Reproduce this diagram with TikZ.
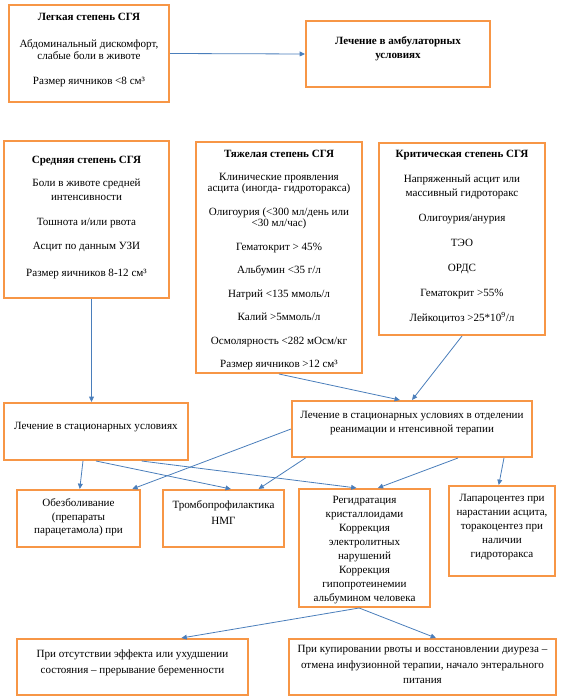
\documentclass[tikz,border=0pt]{standalone}
\usepackage{fontspec}
\setmainfont{Liberation Serif}
\usepackage{xcolor}
\usepackage{tikz}
\usetikzlibrary{arrows.meta,calc}
\definecolor{boxor}{RGB}{247,150,70}
\definecolor{arblue}{RGB}{74,126,187}
\newlength{\pxu}
\setlength{\pxu}{0.75pt}
\tikzset{
  bx/.style={draw=boxor,line width=1.5pt,inner sep=0pt,anchor=north west,font=\fontsize{8.3}{10.5}\selectfont},
  ar/.style={draw=arblue,line width=0.6pt,-{Triangle[length=4pt,width=3.6pt]}}
}
\newcommand{\bt}[4]{\parbox[c][#2\pxu][t]{#1\pxu}{\centering\vspace*{#3\pxu}#4}}

\begin{document}
\begin{tikzpicture}[x=0.75pt,y=-0.75pt]
\useasboundingbox (0,0) rectangle (567,698);
\node[bx,font=\fontsize{8.3}{9}\selectfont] (mild) at (8,4) {\bt{160}{97}{8}{\textbf{Легкая степень СГЯ}\\[15\pxu] Абдоминальный дискомфорт,\\ слабые боли в животе\\[13\pxu] Размер яичников <8 см³}};
\node[bx] (amb) at (305,20) {\bt{184}{66}{15.7}{\textbf{Лечение в амбулаторных}\\ \textbf{условиях}}};
\node[bx] (mod) at (3,140) {\bt{165}{157}{14.7}{\textbf{Средняя степень СГЯ}\\[9\pxu] Боли в животе средней\\ интенсивности\\[11\pxu] Тошнота и/или рвота\\[10\pxu] Асцит по данным УЗИ\\[13\pxu] Размер яичников 8-12 см³}};
\node[bx,font=\fontsize{8.3}{8.6}\selectfont] (sev) at (195,141) {\bt{166}{231}{7.7}{\textbf{Тяжелая степень СГЯ}\\[12\pxu] Клинические проявления\\ асцита (иногда- гидроторакса)\\[12\pxu] Олигоурия (<300 мл/день или\\ <30 мл/час)\\[12\pxu] Гематокрит > 45\%\\[12\pxu] Альбумин <35 г/л\\[12\pxu] Натрий <135 ммоль/л\\[12\pxu] Калий >5ммоль/л\\[12\pxu] Осмолярность <282 мОсм/кг\\[12\pxu] Размер яичников >12 см³}};
\node[bx] (crit) at (378,142) {\bt{166}{192}{6.7}{\textbf{Критическая степень СГЯ}\\[11\pxu] Напряженный асцит или\\ массивный гидроторакс\\[11\pxu] Олигоурия/анурия\\[11\pxu] ТЭО\\[11\pxu] ОРДС\\[11\pxu] Гематокрит >55\%\\[11\pxu] Лейкоцитоз >25*10\textsuperscript{9}/л}};
\node[bx] (hosp) at (3,402) {\bt{184}{57}{19.7}{Лечение в стационарных условиях}};
\node[bx] (icu) at (291,400) {\bt{240}{56}{10.7}{Лечение в стационарных условиях в отделении\\ реанимации и нтенсивной терапии}};
\node[bx,font=\fontsize{8.3}{10.1}\selectfont] (anal) at (16,489) {\bt{123}{57}{8.7}{Обезболивание\\ (препараты\\ парацетамола) при}};
\node[bx,font=\fontsize{8.3}{12}\selectfont] (thr) at (162,489) {\bt{121}{57}{10.7}{Тромбопрофилактика\\ НМГ}};
\node[bx] (reh) at (298,488) {\bt{131}{118}{7.7}{Регидратация\\ кристаллоидами\\ Коррекция\\ электролитных\\ нарушений\\ Коррекция\\ гипопротеинемии\\ альбумином человека}};
\node[bx] (lap) at (448,485) {\bt{106}{90}{8.7}{Лапароцентез при\\ нарастании асцита,\\ торакоцентез при\\ наличии\\ гидроторакса}};
\node[bx,font=\fontsize{8.3}{12}\selectfont] (term) at (16,638) {\bt{231}{56}{10.7}{При отсутствии эффекта или ухудшении\\ состояния – прерывание беременности}};
\node[bx,font=\fontsize{8.3}{11.6}\selectfont] (cont) at (288,638) {\bt{267}{56}{6.7}{При купировании рвоты и восстановлении диуреза –\\ отмена инфузионной терапии, начало энтерального\\ питания}};
\draw[ar] (mild.east) -- (amb.west);
\draw[ar] ($(mod.south west)!.53!(mod.south east)$) coordinate (m1) -- (m1 |- hosp.north);
\draw[ar] (sev.south) -- ($(icu.north west)!.45!(icu.north east)$);
\draw[ar] (crit.south) -- ($(icu.north west)!.5!(icu.north east)$);
\draw[ar] (icu.west) -- ($(anal.north west)!.93!(anal.north east)$);
\draw[ar] ($(hosp.south west)!.43!(hosp.south east)$) -- ($(anal.north west)!.51!(anal.north east)$);
\draw[ar] (hosp.south) -- ($(thr.north west)!.56!(thr.north east)$);
\draw[ar] ($(hosp.south west)!.745!(hosp.south east)$) -- ($(reh.north west)!.44!(reh.north east)$);
\draw[ar] ($(icu.south west)!.06!(icu.south east)$) -- ($(thr.north west)!.785!(thr.north east)$);
\draw[ar] ($(icu.south west)!.69!(icu.south east)$) -- ($(reh.north west)!.6!(reh.north east)$);
\draw[ar] ($(icu.south west)!.88!(icu.south east)$) -- ($(lap.north west)!.47!(lap.north east)$);
\draw[ar] ($(reh.south west)!.46!(reh.south east)$) coordinate (r1) -- ($(term.north west)!.71!(term.north east)$);
\draw[ar] (r1) -- ($(cont.north west)!.55!(cont.north east)$);
\end{tikzpicture}
\end{document}
